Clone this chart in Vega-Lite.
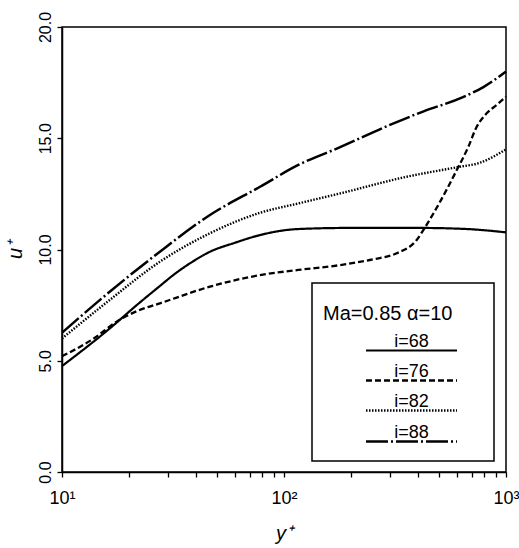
{
  "$schema": "https://vega.github.io/schema/vega-lite/v6.json",
  "autosize": {"type": "none"},
  "padding": {"left": 62, "top": 27, "right": 13, "bottom": 76},
  "width": 444,
  "height": 445,
  "background": "white",
  "config": {
    "font": "Liberation Sans",
    "view": {"stroke": "black", "strokeWidth": 1.5},
    "axis": {"grid": false, "domainColor": "black", "domainWidth": 1.5, "tickColor": "black", "tickWidth": 1.3, "tickSize": 5, "labelColor": "black", "titleColor": "black", "labelFont": "Liberation Sans", "titleFont": "Liberation Sans", "titleFontWeight": "normal"},
    "legend": {"strokeWidth": 1.5}
  },
  "data": {
    "values": [
      {"y": 10, "u": 4.76, "i": "i=68"},
      {"y": 16.4, "u": 6.45, "i": "i=68"},
      {"y": 22, "u": 7.55, "i": "i=68"},
      {"y": 27.6, "u": 8.36, "i": "i=68"},
      {"y": 31.7, "u": 8.85, "i": "i=68"},
      {"y": 38, "u": 9.4, "i": "i=68"},
      {"y": 46.4, "u": 9.9, "i": "i=68"},
      {"y": 60, "u": 10.3, "i": "i=68"},
      {"y": 78, "u": 10.65, "i": "i=68"},
      {"y": 116, "u": 10.92, "i": "i=68"},
      {"y": 200, "u": 10.97, "i": "i=68"},
      {"y": 400, "u": 10.97, "i": "i=68"},
      {"y": 665, "u": 10.92, "i": "i=68"},
      {"y": 1000, "u": 10.77, "i": "i=68"},

      {"y": 10, "u": 5.2, "i": "i=76"},
      {"y": 13.8, "u": 5.98, "i": "i=76"},
      {"y": 17.9, "u": 6.8, "i": "i=76"},
      {"y": 22, "u": 7.25, "i": "i=76"},
      {"y": 27.6, "u": 7.58, "i": "i=76"},
      {"y": 46.4, "u": 8.33, "i": "i=76"},
      {"y": 78, "u": 8.85, "i": "i=76"},
      {"y": 116, "u": 9.08, "i": "i=76"},
      {"y": 179, "u": 9.3, "i": "i=76"},
      {"y": 252, "u": 9.56, "i": "i=76"},
      {"y": 322, "u": 9.83, "i": "i=76"},
      {"y": 396, "u": 10.43, "i": "i=76"},
      {"y": 432, "u": 11.0, "i": "i=76"},
      {"y": 505, "u": 12.15, "i": "i=76"},
      {"y": 600, "u": 13.57, "i": "i=76"},
      {"y": 677, "u": 14.62, "i": "i=76"},
      {"y": 738, "u": 15.52, "i": "i=76"},
      {"y": 804, "u": 16.04, "i": "i=76"},
      {"y": 907, "u": 16.5, "i": "i=76"},
      {"y": 1000, "u": 16.87, "i": "i=76"},

      {"y": 10, "u": 6.0, "i": "i=82"},
      {"y": 16.4, "u": 7.73, "i": "i=82"},
      {"y": 27.6, "u": 9.45, "i": "i=82"},
      {"y": 46.4, "u": 10.73, "i": "i=82"},
      {"y": 78, "u": 11.65, "i": "i=82"},
      {"y": 116, "u": 12.07, "i": "i=82"},
      {"y": 179, "u": 12.52, "i": "i=82"},
      {"y": 357, "u": 13.27, "i": "i=82"},
      {"y": 603, "u": 13.7, "i": "i=82"},
      {"y": 764, "u": 13.9, "i": "i=82"},
      {"y": 1000, "u": 14.5, "i": "i=82"},

      {"y": 10, "u": 6.26, "i": "i=88"},
      {"y": 16.4, "u": 8.1, "i": "i=88"},
      {"y": 27.6, "u": 9.9, "i": "i=88"},
      {"y": 46.4, "u": 11.55, "i": "i=88"},
      {"y": 78, "u": 12.82, "i": "i=88"},
      {"y": 116, "u": 13.8, "i": "i=88"},
      {"y": 179, "u": 14.6, "i": "i=88"},
      {"y": 300, "u": 15.6, "i": "i=88"},
      {"y": 423, "u": 16.2, "i": "i=88"},
      {"y": 640, "u": 16.85, "i": "i=88"},
      {"y": 791, "u": 17.3, "i": "i=88"},
      {"y": 1000, "u": 18.0, "i": "i=88"}
    ]
  },
  "mark": {"type": "line", "interpolate": "monotone", "color": "black"},
  "encoding": {
    "x": {
      "field": "y", "type": "quantitative",
      "scale": {"type": "log", "domain": [10, 1000], "nice": false},
      "axis": {
        "values": [10, 20, 30, 40, 50, 60, 70, 80, 90, 100, 200, 300, 400, 500, 600, 700, 800, 900, 1000],
        "labelExpr": "datum.value == 10 ? '10¹' : datum.value == 100 ? '10²' : datum.value == 1000 ? '10³' : ''",
        "labelFontSize": 18, "labelPadding": 12, "labelFlush": false, "labelOverlap": false,
        "title": "y⁺", "titleFontSize": 20, "titleFontStyle": "italic", "titlePadding": 16
      }
    },
    "y": {
      "field": "u", "type": "quantitative",
      "scale": {"domain": [0, 20], "nice": false, "zero": false},
      "axis": {
        "values": [0, 5, 10, 15, 20], "format": ".1f",
        "labelAngle": 270, "labelAlign": "center", "labelBaseline": "alphabetic",
        "labelFontSize": 16, "labelPadding": 7,
        "title": "u⁺", "titleFontSize": 20, "titleFontStyle": "italic", "titlePadding": 12
      }
    },
    "strokeDash": {
      "field": "i", "type": "nominal",
      "scale": {"domain": ["i=68", "i=76", "i=82", "i=88"], "range": [[1, 0], [6, 3], [1.5, 1.5], [22, 3, 2, 3]]},
      "legend": {
        "title": "Ma=0.85 α=10",
        "orient": "none", "legendX": 250, "legendY": 256,
        "padding": 11, "strokeColor": "black",
        "titleFontSize": 20, "titleFontWeight": "normal", "titleColor": "black", "titleFont": "Liberation Sans",
        "titleBaseline": "line-top", "titleLineHeight": 40, "titlePadding": 20,
        "symbolType": "M-3,0H3M4.32,0.18", "symbolSize": 920, "symbolStrokeColor": "black", "symbolFillColor": "transparent", "symbolStrokeWidth": 2,
        "symbolOffset": 72, "labelOffset": -16.5, "labelAlign": "center", "labelBaseline": "bottom",
        "labelFontSize": 18, "labelColor": "black", "labelFont": "Liberation Sans",
        "rowPadding": 4
      }
    },
    "strokeWidth": {
      "field": "i", "type": "nominal",
      "scale": {"domain": ["i=68", "i=76", "i=82", "i=88"], "range": [2.2, 2.5, 1.6, 2.5]},
      "legend": null
    }
  }
}
